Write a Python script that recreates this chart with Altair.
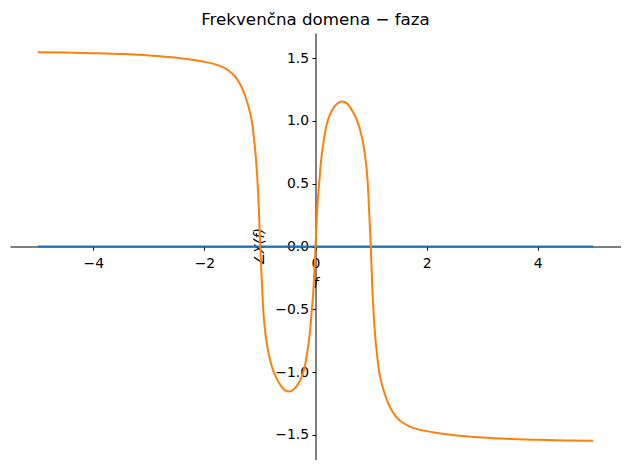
import altair as alt
import pandas as pd

TITLE = "Frekvenčna domena − faza"

# Phase curve
f_phase = [-5.0, -4.5, -4.0, -3.5, -3.0, -2.5, -2.16, -2.0, -1.8, -1.68, -1.56, -1.46,
           -1.38, -1.32, -1.26, -1.21, -1.17, -1.14, -1.11, -1.08, -1.05, -1.02, -0.995,
           -0.97, -0.94, -0.91, -0.87, -0.82, -0.76, -0.70, -0.62, -0.55, -0.47, -0.40,
           -0.32, -0.25, -0.20, -0.15, -0.10, -0.065, -0.04, -0.02,
           0.0, 0.02, 0.04, 0.065, 0.10, 0.15, 0.20, 0.25, 0.32, 0.40, 0.47, 0.55, 0.62,
           0.70, 0.76, 0.82, 0.87, 0.91, 0.94, 0.97, 0.995, 1.02, 1.05, 1.08, 1.11, 1.14,
           1.17, 1.21, 1.26, 1.32, 1.38, 1.46, 1.56, 1.68, 1.8, 2.0, 2.16, 2.5, 3.0, 3.5,
           4.0, 4.5, 5.0]
phase = [1.547, 1.544, 1.539, 1.532, 1.521, 1.503, 1.483, 1.47, 1.45, 1.43, 1.40, 1.36,
         1.31, 1.26, 1.19, 1.12, 1.05, 0.98, 0.87, 0.74, 0.56, 0.30, 0.0,
         -0.24, -0.51, -0.66, -0.79, -0.90, -0.99, -1.05, -1.11, -1.145, -1.155, -1.14,
         -1.10, -1.04, -0.97, -0.85, -0.68, -0.50, -0.36, -0.20,
         0.0, 0.20, 0.36, 0.50, 0.68, 0.85, 0.97, 1.04, 1.10, 1.14, 1.155, 1.145, 1.11,
         1.05, 0.99, 0.90, 0.79, 0.66, 0.51, 0.24, 0.0, -0.30, -0.56, -0.74, -0.87, -0.98,
         -1.05, -1.12, -1.19, -1.26, -1.31, -1.36, -1.40, -1.43, -1.45, -1.47, -1.483,
         -1.503, -1.521, -1.532, -1.539, -1.544, -1.547]

# Flat (zero) series
f_zero = [-5.0, 5.0]
zero_vals = [0.0, 0.0]

x_ticks = [-4, -2, 0, 2, 4]
y_ticks = [-1.5, -1.0, -0.5, 0.0, 0.5, 1.0, 1.5]

W, H = 611, 427
FONT = "DejaVu Sans"

df_phase = pd.DataFrame({"f": f_phase, "v": phase})
df_zero = pd.DataFrame({"f": f_zero, "v": zero_vals})
df_title = pd.DataFrame({"t": [TITLE]})

xscale = alt.Scale(domain=[-5.5, 5.5], nice=False, zero=False)
yscale = alt.Scale(domain=[-1.70, 1.70], nice=False, zero=False)

xaxis = alt.Axis(values=x_ticks, format="d", offset=-H / 2, grid=False,
                 domainColor="black", domainWidth=1, tickColor="black", tickWidth=1,
                 tickSize=3.5, labelPadding=6, labelFontSize=13.9, labelFont=FONT,
                 labelColor="black", labelOverlap=False, labelFlush=False,
                 title="f", titleFont=FONT, titleFontSize=13.9, titleFontStyle="italic",
                 titleFontWeight="normal", titleColor="black", titlePadding=7)
yaxis = alt.Axis(values=y_ticks, format=".1f", offset=-W / 2, grid=False,
                 domainColor="black", domainWidth=1, tickColor="black", tickWidth=1,
                 tickSize=3.5, labelPadding=3.5, labelFontSize=13.9, labelFont=FONT,
                 labelColor="black", labelOverlap=False, labelFlush=False,
                 title="∠X(f)", titleFont=FONT, titleFontSize=13.9, titleFontStyle="italic",
                 titleFontWeight="normal", titleColor="black", titlePadding=8)

zero_line = alt.Chart(df_zero).mark_line(color="#1f77b4", strokeWidth=2).encode(
    x=alt.X("f:Q", scale=xscale, axis=xaxis),
    y=alt.Y("v:Q", scale=yscale, axis=yaxis),
)
phase_line = alt.Chart(df_phase).mark_line(color="#ff7f0e", strokeWidth=2,
                                           interpolate="monotone").encode(
    x=alt.X("f:Q", scale=xscale),
    y=alt.Y("v:Q", scale=yscale),
)
title_text = alt.Chart(df_title).mark_text(
    font=FONT, fontSize=16.7, color="black", align="center", baseline="alphabetic"
).encode(text="t:N", x=alt.value(W / 2), y=alt.value(-8.5))

chart = alt.layer(zero_line, phase_line, title_text).properties(
    width=W, height=H,
    autosize=alt.AutoSizeParams(type="none"),
    padding={"left": 2, "top": 25, "right": 0, "bottom": 0},
    background="white",
).configure_view(stroke=None)

chart.save("out.html", embed_options={"renderer": "svg", "actions": False})
